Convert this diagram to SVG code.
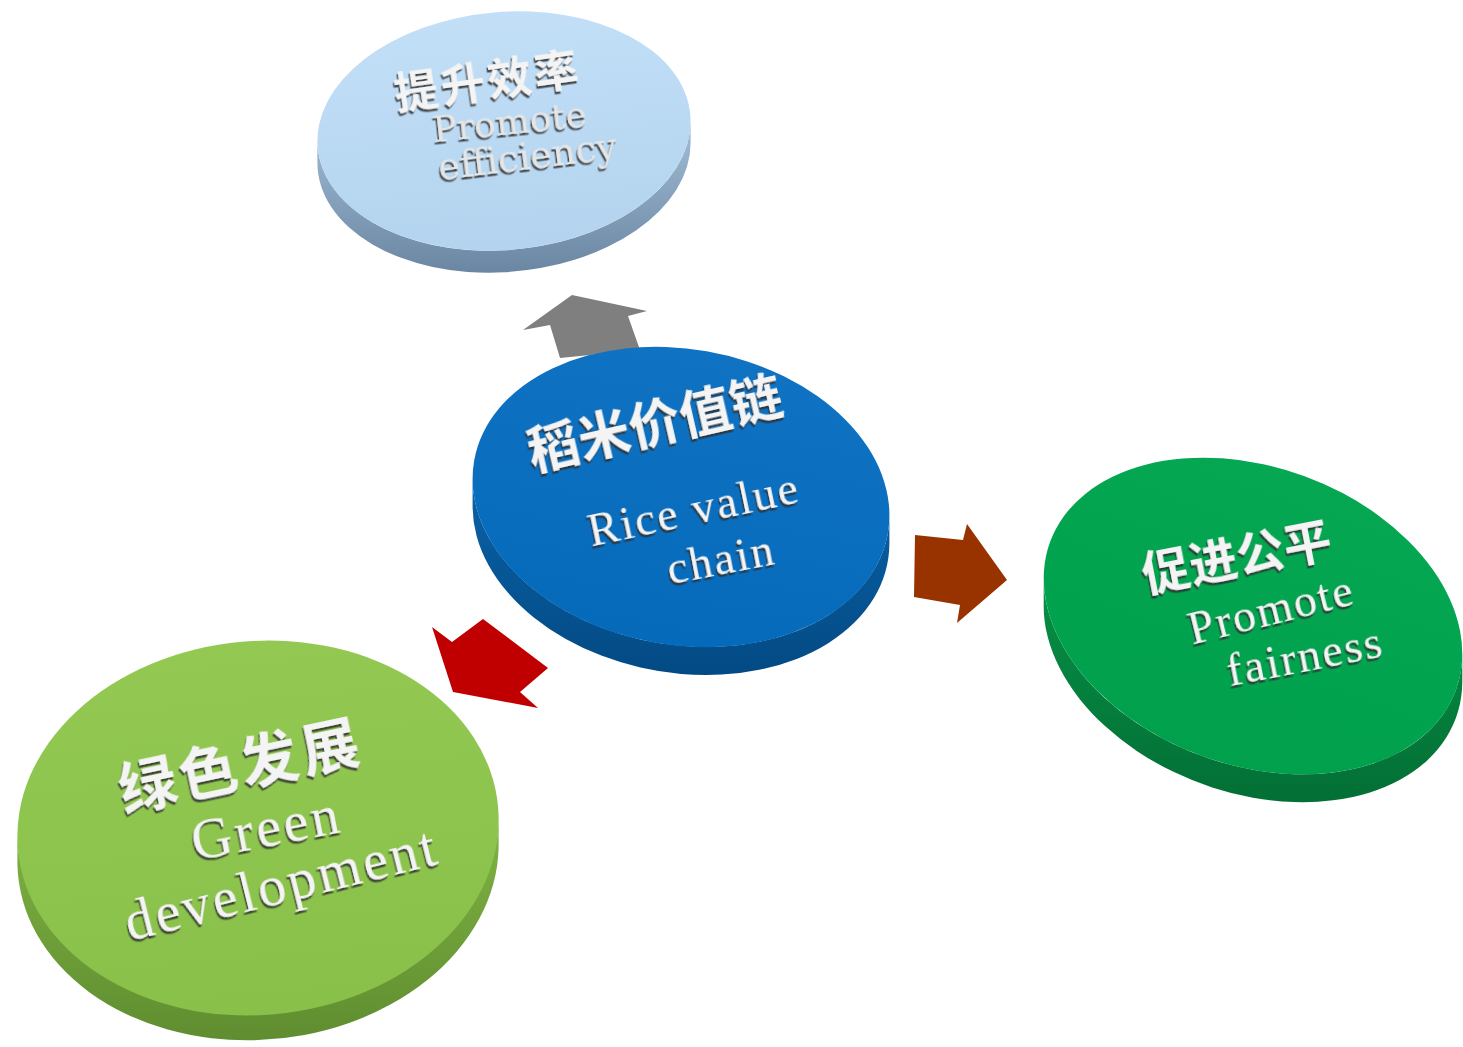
<svg xmlns="http://www.w3.org/2000/svg" width="1463" height="1047" viewBox="0 0 1463 1047">
<defs>
  <filter id="emboss" x="-10%" y="-30%" width="120%" height="160%">
    <feDropShadow dx="-1.5" dy="2.5" stdDeviation="0.7" flood-color="#2e2e2e" flood-opacity="0.85"/>
  </filter>
  <linearGradient id="faceTop" x1="0" y1="0" x2="0" y2="1"><stop offset="0" stop-color="#C2DFF7"/><stop offset="1" stop-color="#B3D3EE"/></linearGradient>
  <linearGradient id="sideTop" x1="0" y1="0" x2="0" y2="1"><stop offset="0" stop-color="#A3BED6"/><stop offset="1" stop-color="#6A86A2"/></linearGradient>
  <linearGradient id="faceMid" x1="0" y1="0" x2="0" y2="1"><stop offset="0" stop-color="#0F72C3"/><stop offset="1" stop-color="#066ABB"/></linearGradient>
  <linearGradient id="sideMid" x1="0" y1="0" x2="0" y2="1"><stop offset="0" stop-color="#0A62A8"/><stop offset="1" stop-color="#034A84"/></linearGradient>
  <linearGradient id="faceRight" x1="0" y1="0" x2="0" y2="1"><stop offset="0" stop-color="#05A752"/><stop offset="1" stop-color="#00A04C"/></linearGradient>
  <linearGradient id="sideRight" x1="0" y1="0" x2="0" y2="1"><stop offset="0" stop-color="#069046"/><stop offset="1" stop-color="#036F35"/></linearGradient>
  <linearGradient id="faceLeft" x1="0" y1="0" x2="0" y2="1"><stop offset="0" stop-color="#93C953"/><stop offset="1" stop-color="#88C049"/></linearGradient>
  <linearGradient id="sideLeft" x1="0" y1="0" x2="0" y2="1"><stop offset="0" stop-color="#80B343"/><stop offset="1" stop-color="#5F8D30"/></linearGradient>
  <style>
    .cjk { font-family: "Noto Sans CJK SC", sans-serif; font-weight: bold; fill: #F4F4F4; filter: url(#emboss); text-anchor: middle; }
    .en { font-family: "Liberation Serif", serif; fill: #F4F4F4; filter: url(#emboss); text-anchor: middle; }
    .slab { font-family: "DejaVu Serif", serif; fill: #E6E6E6; filter: url(#emboss); text-anchor: middle; }
  </style>
</defs>
<rect width="1463" height="1047" fill="#FFFFFF"/>

<g id="connectors">
  <polygon id="arrow-up" points="523,330 572,295 647,311 628,316 640,350 560,358 550,325" fill="#7F7F7F"/>
  <polygon id="arrow-left" points="432,627 452,642 483,619 548,668 520,692 538,708 453,692" fill="#C00000"/>
  <polygon id="arrow-right" points="915,535 963,540 967,524 1007,580 957,623 960,605 914,597" fill="#983300"/>
</g>

<g id="node-efficiency">
  <path d="M317.4,140.7 L317.4,162.7 A187,119,-5,0,0,690.6,143.3 L690.6,121.3 A187,119,-5,0,1,317.4,140.7 Z" fill="url(#sideTop)"/>
  <ellipse cx="504" cy="131" rx="187" ry="119" transform="rotate(-5 504 131)" fill="url(#faceTop)"/>
  <text class="cjk" x="490" y="97" font-size="44" letter-spacing="3" transform="rotate(-8 490 97)">提升效率</text>
  <text class="slab" x="511" y="134" font-size="36" transform="rotate(-6 511 134)">Promote</text>
  <text class="slab" x="529" y="169" font-size="37" transform="rotate(-7 529 169)">efficiency</text>
</g>

<g id="node-rice">
  <path d="M472.6,478.8 L472.6,506.8 A210,148,10,0,0,889.4,543.2 L889.4,515.2 A210,148,10,0,1,472.6,478.8 Z" fill="url(#sideMid)"/>
  <ellipse cx="681" cy="497" rx="210" ry="148" transform="rotate(10 681 497)" fill="url(#faceMid)"/>
  <text class="cjk" x="659" y="442" font-size="52" transform="rotate(-13 659 442)">稻米价值链</text>
  <text class="en" x="697" y="524" font-size="46" letter-spacing="2" transform="rotate(-12 697 524)">Rice value</text>
  <text class="en" x="724" y="574" font-size="46" letter-spacing="2" transform="rotate(-11 724 574)">chain</text>
</g>

<g id="node-fairness">
  <path d="M1043.7,578.4 L1043.7,606.4 A216,149,20,0,0,1462.3,681.6 L1462.3,653.6 A216,149,20,0,1,1043.7,578.4 Z" fill="url(#sideRight)"/>
  <ellipse cx="1253" cy="616" rx="216" ry="149" transform="rotate(20 1253 616)" fill="url(#faceRight)"/>
  <text class="cjk" x="1240" y="574" font-size="48" transform="rotate(-11 1240 574)">促进公平</text>
  <text class="en" x="1275" y="624" font-size="46" letter-spacing="2" transform="rotate(-14 1275 624)">Promote</text>
  <text class="en" x="1308" y="671" font-size="46" letter-spacing="2" transform="rotate(-11 1308 671)">fairness</text>
</g>

<g id="node-green">
  <path d="M17.4,836.3 L17.4,864.3 A241,187,-5,0,0,498.6,847.7 L498.6,819.7 A241,187,-5,0,1,17.4,836.3 Z" fill="url(#sideLeft)"/>
  <ellipse cx="258" cy="828" rx="241" ry="187" transform="rotate(-5 258 828)" fill="url(#faceLeft)"/>
  <text class="cjk" x="245" y="786" font-size="58" letter-spacing="4" transform="rotate(-12 245 786)">绿色发展</text>
  <text class="en" x="270" y="846" font-size="56" letter-spacing="3" transform="rotate(-11 270 846)">Green</text>
  <text class="en" x="286" y="902" font-size="56" letter-spacing="3" transform="rotate(-14 286 902)">development</text>
</g>
</svg>
